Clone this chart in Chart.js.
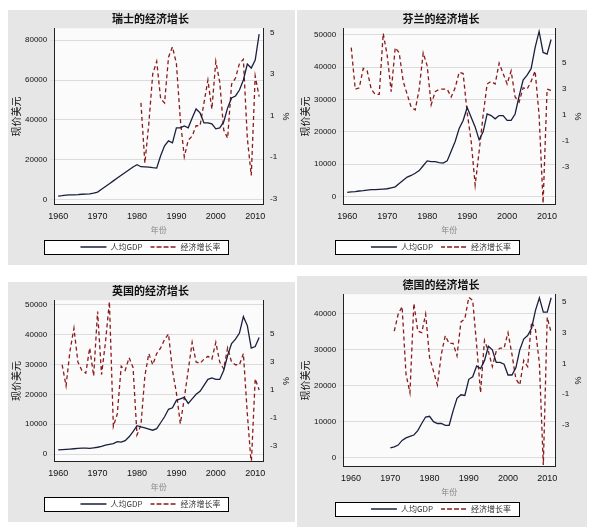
<!DOCTYPE html>
<html>
<head>
<meta charset="utf-8">
<script src="https://cdn.jsdelivr.net/npm/chart.js@4/dist/chart.umd.min.js"></script>
<style>
  body { margin: 0; background: #fff; width: 591px; height: 527px; position: relative; overflow: hidden; }
  .p { position: absolute; }
</style>
</head>
<body>
<div class="p" style="left:8px;top:10px;width:287px;height:255px"><canvas id="c1"></canvas></div>
<div class="p" style="left:297px;top:10px;width:290px;height:255px"><canvas id="c2"></canvas></div>
<div class="p" style="left:8px;top:282px;width:287px;height:240px"><canvas id="c3"></canvas></div>
<div class="p" style="left:297px;top:276px;width:290px;height:251px"><canvas id="c4"></canvas></div>
<script>
const years = [];
for (let y = 1960; y <= 2011; y++) years.push(y);

// 人均GDP (千美元), 1960-2011
const swissGdp = [1.8,2.0,2.3,2.4,2.4,2.5,2.7,2.8,2.9,3.2,3.8,5.2,6.6,8.0,9.4,10.8,12.2,13.6,15.0,16.4,17.5,16.5,16.4,16.3,16.0,15.8,22,27,29.5,28.5,36,36,37,36,41,45.5,43.5,38.5,38.5,38,35.5,36,39,46,51,52,55,60,68,66,70,83];
const finGdp = [1.3,1.4,1.5,1.7,1.8,2.0,2.1,2.1,2.2,2.3,2.4,2.7,3.0,4.0,5.0,6.0,6.5,7.2,8,9.5,11,10.8,10.8,10.5,10.3,11,14,17,21,23.5,27.5,24.5,21.5,17.5,20,25.5,25,24,25,25,23.5,23.5,25.5,31,36,37.5,39.5,46,51,44.5,44,48.5];
const ukGdp = [1.4,1.5,1.6,1.7,1.8,1.9,2.0,2.0,1.9,2.1,2.3,2.6,3.0,3.3,3.5,4.2,4.0,4.5,5.8,7.5,9.5,9.1,8.8,8.4,8.0,8.5,10.5,12.5,15,15.5,18,18.5,19,17,18.5,20,21,23,25,25.5,25,25,28,33,37,38.5,40.5,46,43,35.5,36,39];
const deGdp = [null,null,null,null,null,null,null,null,null,null,2.7,3.0,3.5,4.8,5.5,5.9,6.3,7.5,9.5,11.3,11.5,10,9.5,9.5,9.0,9.0,13,16.5,17.5,17.3,21.8,22.5,25.5,24.8,27,31,30,26.5,26.5,26,23,23,25,30,33,34,36,41,44.5,40.5,40.5,44.5];

// 经济增长率 (%), 1960-2011
const swissGr = [null,null,null,null,null,null,null,null,null,null,null,null,null,null,null,null,null,null,null,null,null,1.6,-1.3,0.6,3.0,3.6,1.8,1.6,3.8,4.3,3.5,0.8,-1.0,-0.2,0.0,0.5,0.5,1.6,2.7,1.3,3.6,2.6,0.3,-0.1,2.5,2.8,3.5,3.7,-0.1,-1.9,2.9,1.9];
const finGr = [null,6.2,3.0,3.1,4.6,4.4,3.0,2.6,2.6,7.3,5.6,2.8,6.2,5.8,3.6,2.6,1.6,1.4,3.0,5.8,4.8,1.8,2.8,3.0,3.0,3.0,2.4,3.1,4.3,4.2,1.2,-1.0,-4.4,-1.8,1.0,3.4,3.6,3.4,5.0,4.2,3.4,4.4,2.4,2.0,3.1,3.0,3.6,4.4,1.0,-5.8,3.0,2.9];
const ukGr = [null,2.8,1.3,3.8,5.4,3.0,2.4,2.2,4.0,2.0,6.6,2.1,4.4,7.3,-1.6,-0.7,2.7,2.4,3.3,2.6,-2.2,-1.5,2.0,3.6,2.8,3.6,4.0,4.6,5.0,2.4,0.8,-1.4,0.4,2.4,4.4,3.0,2.9,3.2,3.4,3.2,4.4,3.0,2.5,4.0,3.0,2.8,2.8,3.6,-0.7,-4.3,1.8,1.0];
const deGr = [null,null,null,null,null,null,null,null,null,null,null,3.1,4.2,4.7,0.3,-0.9,4.9,3.1,3.0,4.2,1.4,0.5,-0.4,1.6,2.8,2.3,2.3,1.5,3.7,3.9,5.3,5.1,2.2,-0.9,2.5,1.8,0.8,1.8,2.0,2.0,3.0,1.6,0.0,-0.4,1.2,0.8,3.7,3.2,1.0,-5.6,4.0,3.0];

const xTicks = [1960, 1970, 1980, 1990, 2000, 2010];
const rateTicks = [-3, -1, 1, 3, 5];

function legendBox(chart) {
  const hb = chart.legend.legendHitBoxes;
  if (!hb || !hb.length) return null;
  const l = Math.min(...hb.map(h => h.left)) - 36;
  const r = Math.max(...hb.map(h => h.left + h.width)) + 8;
  const t = hb[0].top - 3, b = hb[0].top + hb[0].height + 3;
  return { l, r, t, b };
}

const panelBg = {
  id: 'panelBg',
  beforeDraw(chart) {
    const { ctx, chartArea: a, width, height } = chart;
    ctx.save();
    ctx.fillStyle = '#e6e6e6';
    ctx.fillRect(0, 0, width, height);
    ctx.fillStyle = '#fbfbfb';
    ctx.fillRect(a.left, a.top, a.right - a.left, a.bottom - a.top);
    const box = legendBox(chart);
    if (box) {
      ctx.fillStyle = '#fff';
      ctx.fillRect(box.l, box.t, box.r - box.l, box.b - box.t);
      ctx.strokeStyle = '#000';
      ctx.lineWidth = 1;
      ctx.strokeRect(Math.round(box.l) + 0.5, Math.round(box.t) + 0.5, Math.round(box.r - box.l), Math.round(box.b - box.t));
    }
    ctx.restore();
  }
};

function makeChart(id, title, gdp, rate, gdpMax, step, rMin, rMax, xMin) {
  return new Chart(document.getElementById(id), {
    type: 'line',
    data: {
      labels: years,
      datasets: [
        { label: '人均GDP', data: gdp.map(v => v == null ? null : v * 1000), yAxisID: 'y',
          borderColor: '#1a1f3d', borderWidth: 1.3, pointRadius: 0, tension: 0 },
        { label: '经济增长率', data: rate, yAxisID: 'y1',
          borderColor: '#8b1a1a', borderWidth: 1.3, borderDash: [4, 3], pointRadius: 0, tension: 0 }
      ]
    },
    options: {
      responsive: true, maintainAspectRatio: false, animation: false,
      layout: { padding: { left: 2, right: 4, top: 0, bottom: 4 } },
      plugins: {
        title: { display: true, text: title, color: '#111', font: { size: 11, weight: 'bold', family: 'Noto Sans CJK SC' }, padding: { top: 2, bottom: 3 } },
        legend: { position: 'bottom', labels: { color: '#333', boxWidth: 26, boxHeight: 0, padding: 8,
          font: { size: 8, family: 'Noto Sans CJK SC' } } },
        tooltip: { enabled: false }
      },
      scales: {
        x: { type: 'linear', min: xMin, max: 2012,
          afterBuildTicks: s => { s.ticks = xTicks.map(v => ({ value: v })); },
          ticks: { color: '#111', font: { size: 9 }, maxRotation: 0, callback: v => v },
          grid: { display: false, tickLength: 4 },
          border: { color: '#222' },
          title: { display: true, text: '年份', color: '#888', font: { size: 8, family: 'Noto Sans CJK SC' }, padding: 0 } },
        y: { position: 'left', min: -2500, max: gdpMax,
          afterBuildTicks: s => {
            const t = [];
            for (let v = 0; v <= gdpMax; v += step) t.push({ value: v });
            s.ticks = t;
          },
          ticks: { color: '#111', font: { size: 8 }, callback: v => String(v) },
          grid: { color: '#dcdcdc', tickLength: 4 }, border: { color: '#222' },
          title: { display: true, text: '现价美元', color: '#111', font: { size: 10, family: 'Noto Sans CJK SC' }, padding: 0 } },
        y1: { position: 'right', min: rMin, max: rMax,
          afterBuildTicks: s => { s.ticks = rateTicks.map(v => ({ value: v })); },
          ticks: { color: '#111', font: { size: 8 } },
          grid: { display: false, tickLength: 4 }, border: { color: '#222' },
          title: { display: true, text: '%', color: '#111', font: { size: 9 }, padding: 0 } }
      }
    },
    plugins: [panelBg]
  });
}

makeChart('c1', '瑞士的经济增长', swissGdp, swissGr, 86000, 20000, -3.3, 5.2, 1959);
makeChart('c2', '芬兰的经济增长', finGdp, finGr, 52000, 10000, -5.9, 7.7, 1959);
makeChart('c3', '英国的经济增长', ukGdp, ukGr, 51500, 10000, -4.1, 7.4, 1959);
makeChart('c4', '德国的经济增长', deGdp, deGr, 45500, 10000, -5.7, 5.5, 1958);
</script>
</body>
</html>
